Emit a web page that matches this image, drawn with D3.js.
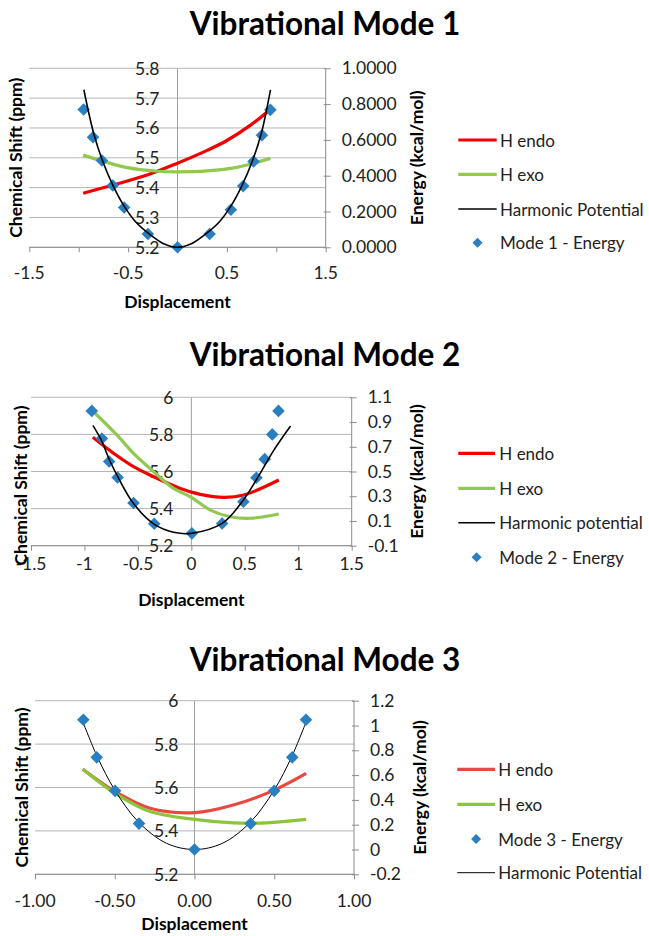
<!DOCTYPE html>
<html><head><meta charset="utf-8">
<script src="https://cdn.jsdelivr.net/npm/d3@7"></script>
<style>
html,body{margin:0;padding:0;background:#fff;}
svg{display:block;font-family:Lato,"Open Sans",sans-serif;}
</style></head>
<body>
<svg id="c" width="649" height="936"></svg>
<script>
// ---------- DATA ----------
// Chart 1
const mode1X = [-0.95,-0.855,-0.765,-0.655,-0.54,-0.3,0,0.325,0.54,0.665,0.77,0.855,0.94];
const mode1E = [0.77,0.615,0.485,0.345,0.222,0.074,0.0,0.074,0.21,0.342,0.48,0.626,0.768];
const harm1X = [-0.948,-0.85,-0.76,-0.65,-0.54,-0.42,-0.28,-0.14,0,0.14,0.28,0.42,0.54,0.65,0.76,0.85,0.941];
const harm1E = [0.88,0.64,0.485,0.342,0.23,0.14,0.072,0.02,0,0.02,0.072,0.14,0.23,0.342,0.485,0.64,0.88];
const endo1X = [-0.955,-0.65,-0.3,0,0.3,0.5,0.75,0.94];
const endo1Y = [5.381,5.409,5.443,5.482,5.525,5.558,5.612,5.663];
const exo1X  = [-0.955,-0.52,-0.2,0,0.3,0.6,0.94];
const exo1Y  = [5.509,5.468,5.455,5.453,5.456,5.468,5.498];
const ticks1Y  = [5.2,5.3,5.4,5.5,5.6,5.7,5.8];
const ticks1Y2 = [0,0.2,0.4,0.6,0.8,1.0];
const ticks1X  = [-1.5,-1,-0.5,0,0.5,1,1.5];
const labels1X = [-1.5,-0.5,0.5,1.5];
const legend1 = ["H endo","H exo","Harmonic Potential","Mode 1 - Energy"];

// Chart 2
const mode2X = [-0.931,-0.837,-0.769,-0.69,-0.541,-0.347,0.005,0.288,0.487,0.609,0.686,0.757,0.815];
const mode2E = [0.99,0.767,0.581,0.451,0.245,0.077,0.0,0.08,0.255,0.45,0.60,0.80,0.99];
const harm2X = [-0.921,-0.846,-0.759,-0.681,-0.541,-0.353,-0.166,0,0.288,0.475,0.616,0.772,0.928];
const harm2E = [0.873,0.759,0.581,0.446,0.241,0.077,0.009,0.0,0.08,0.255,0.444,0.673,0.868];
const endo2X = [-0.921,-0.728,-0.541,-0.353,-0.103,0.084,0.303,0.49,0.818];
const endo2Y = [5.784,5.698,5.626,5.572,5.509,5.477,5.461,5.473,5.554];
const exo2X  = [-0.9,-0.697,-0.541,-0.353,-0.166,0,0.178,0.365,0.553,0.818];
const exo2Y  = [5.914,5.797,5.698,5.599,5.509,5.461,5.392,5.356,5.348,5.371];
const ticks2Y  = [5.2,5.4,5.6,5.8,6.0];
const ticks2Y2 = [-0.1,0.1,0.3,0.5,0.7,0.9,1.1];
const ticks2X  = [-1.5,-1,-0.5,0,0.5,1,1.5];
const labels2X = [-1.5,-1,-0.5,0,0.5,1,1.5];
const legend2 = ["H endo","H exo","Harmonic potential","Mode 2 - Energy"];

// Chart 3
const mode3X = [-0.697,-0.613,-0.498,-0.348,0,0.352,0.5,0.613,0.699];
const mode3E = [1.046,0.743,0.473,0.209,0.0,0.209,0.473,0.743,1.046];
const harm3X = [-0.70,-0.61,-0.5,-0.35,-0.175,0,0.175,0.35,0.5,0.61,0.70];
const harm3E = [1.03,0.75,0.48,0.22,0.05,0,0.05,0.22,0.48,0.75,1.03];
const endo3X = [-0.7,-0.498,-0.279,0,0.243,0.5,0.7];
const endo3Y = [5.684,5.581,5.504,5.484,5.519,5.588,5.665];
const exo3X  = [-0.7,-0.498,-0.279,0,0.243,0.45,0.7];
const exo3Y  = [5.684,5.573,5.489,5.453,5.437,5.437,5.453];
const ticks3Y  = [5.2,5.4,5.6,5.8,6.0];
const ticks3Y2 = [-0.2,0,0.2,0.4,0.6,0.8,1.0,1.2];
const ticks3X  = [-1,-0.5,0,0.5,1];
const labels3X = [-1,-0.5,0,0.5,1];
const legend3 = ["H endo","H exo","Mode 3 - Energy","Harmonic Potential"];

const titles = ["Vibrational Mode 1","Vibrational Mode 2","Vibrational Mode 3"];

// ---------- DRAW ----------
const svg = d3.select("#c");
const hy = s => s.replace("\u2212","-");
const TICK_FS = 17.5, LEG_FS = 17, AXT_FS = 17.5, TITLE_FS = 31.5;

function diamond(g, x, y, r, color){
  g.append("path").attr("d",`M${x},${y-r}L${x+r},${y}L${x},${y+r}L${x-r},${y}Z`).attr("fill",color);
}

function drawChart(c){
  const g = svg.append("g");
  const x = d3.scaleLinear().domain(c.xDom).range([c.left,c.right]);
  const y = d3.scaleLinear().domain(c.yDom).range([c.bottom,c.top]);
  const y2 = d3.scaleLinear().domain(c.y2Dom).range([c.bottom,c.top]);

  // title
  g.append("text").attr("x",c.titleX).attr("y",c.titleY).attr("text-anchor","middle")
    .attr("font-weight","bold").attr("font-size",TITLE_FS).attr("fill","#000").text(c.title);

  // gridlines
  g.selectAll(".gl").data(c.yTicks).join("line")
    .attr("x1",c.left).attr("x2",c.right).attr("y1",d=>y(d)).attr("y2",d=>y(d))
    .attr("stroke","#b4b4b4").attr("stroke-width",1);
  // primary y axis line at x=0
  g.append("line").attr("x1",x(0)).attr("x2",x(0)).attr("y1",c.top).attr("y2",c.bottom)
    .attr("stroke","#a0a0a0");
  // secondary axis
  const ax2 = g.append("g").attr("transform",`translate(${c.right},0)`)
    .call(d3.axisRight(y2).tickValues(c.y2Ticks).tickSize(5).tickPadding(11).tickFormat(d=>hy(d3.format(c.y2Fmt)(d))));
  ax2.select(".domain").attr("stroke","#8c8c8c").attr("d",`M0,${c.top}V${c.bottom}`);
  ax2.selectAll(".tick line").attr("stroke","#8c8c8c").attr("x1",-2);
  ax2.selectAll("text").attr("font-size",TICK_FS).attr("fill","#222").attr("font-family","Lato,sans-serif");
  // x axis
  const ax = g.append("g").attr("transform",`translate(0,${c.bottom})`)
    .call(d3.axisBottom(x).tickValues(c.xTicks).tickSize(5).tickFormat(""));
  ax.select(".domain").attr("stroke","#8c8c8c").attr("d",`M${c.left},0H${c.right}`);
  ax.selectAll(".tick line").attr("stroke","#8c8c8c");
  g.selectAll(".xl").data(c.xLabels).join("text")
    .attr("x",d=>x(d)).attr("y",c.bottom+c.xLabelDy).attr("text-anchor","middle")
    .attr("dominant-baseline","central").attr("font-size",TICK_FS).attr("fill","#222")
    .text(d=>hy(d3.format(c.xFmt)(d)));
  // primary y labels
  g.selectAll(".yl").data(c.yTicks).join("text")
    .attr("x",x(0)-c.yLabelGap).attr("y",d=>y(d)).attr("text-anchor","end")
    .attr("dominant-baseline","central").attr("font-size",TICK_FS).attr("fill","#222")
    .text(d=>d3.format(c.yFmt)(d));

  // axis titles
  g.append("text").attr("x",(c.left+c.right)/2+c.xTitleDx).attr("y",c.bottom+c.xTitleDy).attr("text-anchor","middle")
    .attr("dominant-baseline","central").attr("font-weight","bold").attr("font-size",AXT_FS).text("Displacement");
  g.append("text").attr("transform",`translate(${c.yTitleX},${(c.top+c.bottom)/2+c.yTitleDy}) rotate(-90)`)
    .attr("text-anchor","middle").attr("dominant-baseline","central").attr("font-weight","bold")
    .attr("font-size",AXT_FS).text("Chemical Shift (ppm)");
  g.append("text").attr("transform",`translate(${c.y2TitleX},${(c.top+c.bottom)/2+c.y2TitleDy}) rotate(-90)`)
    .attr("text-anchor","middle").attr("dominant-baseline","central").attr("font-weight","bold")
    .attr("font-size",AXT_FS).text("Energy (kcal/mol)");

  // lines
  const lineY = d3.line().x(d=>x(d[0])).y(d=>y(d[1])).curve(d3.curveCatmullRom);
  const lineE = d3.line().x(d=>x(d[0])).y(d=>y2(d[1])).curve(d3.curveCatmullRom);
  g.append("path").attr("d",lineY(d3.zip(c.endoX,c.endoY))).attr("fill","none")
    .attr("stroke",c.red).attr("stroke-width",3.2);
  g.append("path").attr("d",lineY(d3.zip(c.exoX,c.exoY))).attr("fill","none")
    .attr("stroke",c.green).attr("stroke-width",3.2);
  // diamonds
  const pts = d3.zip(c.modeX,c.modeE);
  if(c.harmOnTop){
    pts.forEach(p=>diamond(g,x(p[0]),y2(p[1]),6.3,c.blue));
    g.append("path").attr("d",lineE(d3.zip(c.harmX,c.harmE))).attr("fill","none")
      .attr("stroke","#000").attr("stroke-width",c.harmW);
  } else {
    g.append("path").attr("d",lineE(d3.zip(c.harmX,c.harmE))).attr("fill","none")
      .attr("stroke","#000").attr("stroke-width",c.harmW);
    pts.forEach(p=>diamond(g,x(p[0]),y2(p[1]),6.3,c.blue));
  }

  // legend
  c.legend.forEach((name,i)=>{
    const ly = c.legY[i];
    const kind = c.legKinds[i];
    if(kind==="d"){
      diamond(g,(c.legX0+c.legX1)/2,ly,5,c.blue);
    } else {
      const col = kind==="r"?c.red:kind==="g"?c.green:"#000";
      const w = kind==="k"?c.harmW:3.2;
      g.append("line").attr("x1",c.legX0).attr("x2",c.legX1).attr("y1",ly).attr("y2",ly)
        .attr("stroke",col).attr("stroke-width",w);
    }
    g.append("text").attr("x",c.legTx).attr("y",ly).attr("dominant-baseline","central")
      .attr("font-size",LEG_FS).attr("fill","#222").text(name);
  });
}

const blue = "#2a7fc1";
drawChart({
  title:titles[0], titleX:325, titleY:35,
  xDom:[-1.5,1.5], left:29.3, right:325.7, yDom:[5.2,5.8], top:68.3, bottom:247.3, y2Dom:[0,1],
  yTicks:ticks1Y, y2Ticks:ticks1Y2, xTicks:ticks1X, xLabels:labels1X,
  xFmt:".1f", yFmt:".1f", y2Fmt:".4f", xLabelDy:25, yLabelGap:18, xTitleDx:0, xTitleDy:54,
  yTitleX:15, yTitleDy:0, y2TitleX:416.7, y2TitleDy:0,
  endoX:endo1X, endoY:endo1Y, exoX:exo1X, exoY:exo1Y, modeX:mode1X, modeE:mode1E, harmX:harm1X, harmE:harm1E,
  red:"#f20000", green:"#92c850", blue, harmW:1.6, harmOnTop:true,
  legend:legend1, legKinds:["r","g","k","d"], legY:[140,174.3,209,242.7], legX0:458.3, legX1:496.7, legTx:500
});
drawChart({
  title:titles[1], titleX:325, titleY:366,
  xDom:[-1.5,1.5], left:31, right:351.7, yDom:[5.2,6.0], top:397.3, bottom:545.7, y2Dom:[-0.1,1.1],
  yTicks:ticks2Y, y2Ticks:ticks2Y2, xTicks:ticks2X, xLabels:labels2X,
  xFmt:"", yFmt:"", y2Fmt:".1f", xLabelDy:18, yLabelGap:18, xTitleDx:0, xTitleDy:54,
  yTitleX:20, yTitleDy:14, y2TitleX:416.7, y2TitleDy:0,
  endoX:endo2X, endoY:endo2Y, exoX:exo2X, exoY:exo2Y, modeX:mode2X, modeE:mode2E, harmX:harm2X, harmE:harm2E,
  red:"#f20000", green:"#92c850", blue, harmW:1.6, harmOnTop:true,
  legend:legend2, legKinds:["r","g","k","d"], legY:[453.3,488.3,522.7,557.3], legX0:458.3, legX1:495, legTx:499.3
});
drawChart({
  title:titles[2], titleX:325, titleY:671,
  xDom:[-1,1], left:35, right:354, yDom:[5.2,6.0], top:700.7, bottom:874.3, y2Dom:[-0.2,1.2],
  yTicks:ticks3Y, y2Ticks:ticks3Y2, xTicks:ticks3X, xLabels:labels3X,
  xFmt:".2f", yFmt:"", y2Fmt:"", xLabelDy:26, yLabelGap:16, xTitleDx:0, xTitleDy:49,
  yTitleX:21.7, yTitleDy:0, y2TitleX:419, y2TitleDy:0,
  endoX:endo3X, endoY:endo3Y, exoX:exo3X, exoY:exo3Y, modeX:mode3X, modeE:mode3E, harmX:harm3X, harmE:harm3E,
  red:"#e8483f", green:"#8cc43c", blue, harmW:1, harmOnTop:false,
  legend:legend3, legKinds:["r","g","d","k"], legY:[769.3,804.3,839,872.7], legX0:457.3, legX1:495, legTx:498.3
});
</script>
</body></html>
